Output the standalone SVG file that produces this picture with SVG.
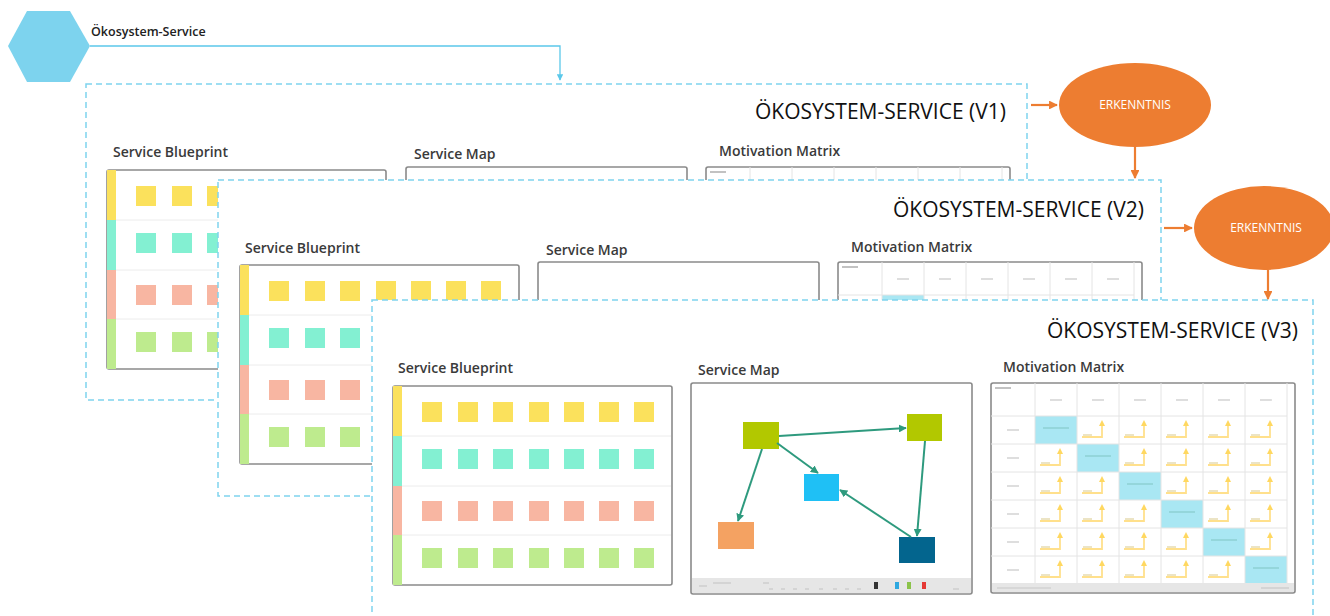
<svg xmlns="http://www.w3.org/2000/svg" xmlns:xlink="http://www.w3.org/1999/xlink" width="1330" height="616" viewBox="0 0 1330 616">
<style>
.box{fill:#fff;stroke:#7FD3EE;stroke-width:1.5;stroke-dasharray:6 4}
.title{font-family:"Open Sans","Liberation Sans",sans-serif;font-size:21px;fill:#111;text-anchor:end}
.lbl{font-family:"Open Sans","Liberation Sans",sans-serif;font-size:14px;font-weight:600;fill:#3a3a3a}
.panel{fill:#fff;stroke:#8a8a8a;stroke-width:1.6}
.sep{stroke:#ececec;stroke-width:1}
.y{fill:#FBE15C}.t{fill:#83F0D2}.s{fill:#F8B6A2}.g{fill:#BEEB8E}
.grid{stroke:#e4e4e4;stroke-width:1;fill:none}
.cy{fill:#A9E7F3}
.stk{fill:none;stroke:#FFE08C;stroke-width:1.8}
.tiny{stroke:#c8c8c8;stroke-width:1.2}
.map{stroke:#2E9A7E;stroke-width:2;fill:none;marker-end:url(#ta)}
.oa{stroke:#ED7D31;stroke-width:2.2;fill:none;marker-end:url(#oa)}
.ell{fill:#ED7D31}
.et{font-family:"Open Sans","Liberation Sans",sans-serif;font-size:12px;fill:#fff;text-anchor:middle}
</style>
<defs>
<marker id="ta" viewBox="0 0 10 10" refX="9" refY="5" markerWidth="4" markerHeight="4" orient="auto"><path d="M0,0L10,5L0,10z" fill="#2E9A7E"/></marker>
<marker id="oa" viewBox="0 0 10 10" refX="9" refY="5" markerWidth="4" markerHeight="4" orient="auto"><path d="M0,0L10,5L0,10z" fill="#ED7D31"/></marker>
<marker id="ba" viewBox="0 0 10 10" refX="9" refY="5" markerWidth="5" markerHeight="5" orient="auto"><path d="M0,0L10,5L0,10z" fill="#5BC8EA"/></marker>
<g id="bp">
<rect class="panel" x="0" y="0" width="279" height="199" rx="2"/>
<rect class="y" x="0" y="0" width="9" height="50"/>
<rect class="t" x="0" y="50" width="9" height="50"/>
<rect class="s" x="0" y="100" width="9" height="49"/>
<rect class="g" x="0" y="149" width="9" height="50"/>
<line class="sep" x1="9" y1="50" x2="278" y2="50"/>
<line class="sep" x1="9" y1="100" x2="278" y2="100"/>
<line class="sep" x1="9" y1="149" x2="278" y2="149"/>
<g class="y"><rect x="29" y="16" width="20" height="20"/><rect x="65" y="16" width="20" height="20"/><rect x="100" y="16" width="20" height="20"/><rect x="136" y="16" width="20" height="20"/><rect x="171" y="16" width="20" height="20"/><rect x="206" y="16" width="20" height="20"/><rect x="241" y="16" width="20" height="20"/></g>
<g class="t"><rect x="29" y="63" width="20" height="20"/><rect x="65" y="63" width="20" height="20"/><rect x="100" y="63" width="20" height="20"/><rect x="136" y="63" width="20" height="20"/><rect x="171" y="63" width="20" height="20"/><rect x="206" y="63" width="20" height="20"/><rect x="241" y="63" width="20" height="20"/></g>
<g class="s"><rect x="29" y="115" width="20" height="20"/><rect x="65" y="115" width="20" height="20"/><rect x="100" y="115" width="20" height="20"/><rect x="136" y="115" width="20" height="20"/><rect x="171" y="115" width="20" height="20"/><rect x="206" y="115" width="20" height="20"/><rect x="241" y="115" width="20" height="20"/></g>
<g class="g"><rect x="29" y="162" width="20" height="20"/><rect x="65" y="162" width="20" height="20"/><rect x="100" y="162" width="20" height="20"/><rect x="136" y="162" width="20" height="20"/><rect x="171" y="162" width="20" height="20"/><rect x="206" y="162" width="20" height="20"/><rect x="241" y="162" width="20" height="20"/></g>
</g>
<rect id="mapempty" class="panel" x="0" y="0" width="281" height="211" rx="2"/>
<g id="mapp">
<rect class="panel" x="0" y="0" width="281" height="211" rx="2"/>
<rect x="1" y="195" width="279" height="15" fill="#E6E6E6"/>
<g class="tiny"><line x1="8" y1="203" x2="16" y2="203"/><line x1="22" y1="200" x2="40" y2="200"/><line x1="72" y1="200" x2="78" y2="200"/><line x1="78" y1="206" x2="82" y2="206"/><line x1="90" y1="206" x2="94" y2="206"/><line x1="102" y1="206" x2="106" y2="206"/><line x1="114" y1="206" x2="118" y2="206"/><line x1="128" y1="206" x2="132" y2="206"/><line x1="142" y1="206" x2="146" y2="206"/><line x1="154" y1="206" x2="158" y2="206"/><line x1="166" y1="206" x2="170" y2="206"/><line x1="262" y1="206" x2="268" y2="206"/></g>
<rect x="183" y="199" width="4" height="7" fill="#333"/><rect x="204" y="199" width="4" height="7" fill="#2EA8E0"/><rect x="216" y="199" width="4" height="7" fill="#8BC34A"/><rect x="231" y="199" width="4" height="7" fill="#E53935"/>
<rect x="52" y="39" width="36" height="27" fill="#B2C800"/>
<rect x="216" y="31" width="35" height="27" fill="#B2C800"/>
<rect x="113" y="91" width="35" height="27" fill="#1FC0F5"/>
<rect x="27" y="139" width="36" height="27" fill="#F4A262"/>
<rect x="208" y="154" width="36" height="26" fill="#03658E"/>
<path class="map" d="M88,53L215,45"/>
<path class="map" d="M86,60L127,90"/>
<path class="map" d="M71,66L47,138"/>
<path class="map" d="M234,58L226,153"/>
<path class="map" d="M220,154L149,107"/>
</g>
<g id="cell"><path class="stk" d="M5,21H25V8"/><path d="M22,10L25,4L28,10z" fill="#FFD860"/><line x1="6" y1="19" x2="15" y2="19" stroke="#d9c98a" stroke-width="1"/></g>
<g id="mx">
<rect class="panel" x="0" y="0" width="304" height="210" rx="2"/>
<rect x="1" y="200" width="302" height="9" fill="#E6E6E6"/>
<rect class="cy" x="44" y="33" width="42" height="28"/>
<rect class="cy" x="86" y="61" width="42" height="28"/>
<rect class="cy" x="128" y="89" width="42" height="28"/>
<rect class="cy" x="170" y="117" width="42" height="28"/>
<rect class="cy" x="212" y="145" width="42" height="28"/>
<rect class="cy" x="254" y="173" width="42" height="27"/>
<g class="grid"><path d="M44,0V200M86,0V200M128,0V200M170,0V200M212,0V200M254,0V200M296,0V200"/><path d="M0,33H296M0,61H296M0,89H296M0,117H296M0,145H296M0,173H296"/></g>
<g class="tiny"><line x1="4" y1="5" x2="20" y2="5" stroke="#999"/>
<line x1="59" y1="17" x2="71" y2="17"/><line x1="101" y1="17" x2="113" y2="17"/><line x1="143" y1="17" x2="155" y2="17"/><line x1="185" y1="17" x2="197" y2="17"/><line x1="227" y1="17" x2="239" y2="17"/><line x1="269" y1="17" x2="281" y2="17"/>
<line x1="16" y1="47" x2="28" y2="47"/><line x1="16" y1="75" x2="28" y2="75"/><line x1="16" y1="103" x2="28" y2="103"/><line x1="16" y1="131" x2="28" y2="131"/><line x1="16" y1="159" x2="28" y2="159"/><line x1="16" y1="187" x2="28" y2="187"/>
<line x1="52" y1="45" x2="78" y2="45" stroke="#8cc"/><line x1="94" y1="73" x2="120" y2="73" stroke="#8cc"/><line x1="136" y1="101" x2="162" y2="101" stroke="#8cc"/><line x1="178" y1="129" x2="204" y2="129" stroke="#8cc"/><line x1="220" y1="157" x2="246" y2="157" stroke="#8cc"/><line x1="262" y1="185" x2="288" y2="185" stroke="#8cc"/>
<line x1="6" y1="205" x2="60" y2="205"/><line x1="270" y1="205" x2="298" y2="205"/></g>
<use xlink:href="#cell" x="86" y="33"/><use xlink:href="#cell" x="128" y="33"/><use xlink:href="#cell" x="170" y="33"/><use xlink:href="#cell" x="212" y="33"/><use xlink:href="#cell" x="254" y="33"/>
<use xlink:href="#cell" x="44" y="61"/><use xlink:href="#cell" x="128" y="61"/><use xlink:href="#cell" x="170" y="61"/><use xlink:href="#cell" x="212" y="61"/><use xlink:href="#cell" x="254" y="61"/>
<use xlink:href="#cell" x="44" y="89"/><use xlink:href="#cell" x="86" y="89"/><use xlink:href="#cell" x="170" y="89"/><use xlink:href="#cell" x="212" y="89"/><use xlink:href="#cell" x="254" y="89"/>
<use xlink:href="#cell" x="44" y="117"/><use xlink:href="#cell" x="86" y="117"/><use xlink:href="#cell" x="128" y="117"/><use xlink:href="#cell" x="212" y="117"/><use xlink:href="#cell" x="254" y="117"/>
<use xlink:href="#cell" x="44" y="145"/><use xlink:href="#cell" x="86" y="145"/><use xlink:href="#cell" x="128" y="145"/><use xlink:href="#cell" x="170" y="145"/><use xlink:href="#cell" x="254" y="145"/>
<use xlink:href="#cell" x="44" y="173"/><use xlink:href="#cell" x="86" y="173"/><use xlink:href="#cell" x="128" y="173"/><use xlink:href="#cell" x="170" y="173"/><use xlink:href="#cell" x="212" y="173"/>
</g>
</defs>
<rect width="1330" height="616" fill="#fff"/>

<g id="v1" transform="translate(86,84)">
<rect class="box" x="0" y="0" width="941" height="316"/>
<text class="title" x="920" y="35">ÖKOSYSTEM-SERVICE (V1)</text>
<text class="lbl" x="27" y="73">Service Blueprint</text>
<text class="lbl" x="328" y="75">Service Map</text>
<text class="lbl" x="633" y="72">Motivation Matrix</text>
<use xlink:href="#bp" x="21" y="86"/>
<use xlink:href="#mapempty" x="320" y="83"/>
<use xlink:href="#mx" x="620" y="83"/>
</g>

<g id="v2" transform="translate(218,180)">
<rect class="box" x="0" y="0" width="943" height="316"/>
<text class="title" x="926" y="37">ÖKOSYSTEM-SERVICE (V2)</text>
<text class="lbl" x="27" y="73">Service Blueprint</text>
<text class="lbl" x="328" y="75">Service Map</text>
<text class="lbl" x="633" y="72">Motivation Matrix</text>
<use xlink:href="#bp" x="22" y="85"/>
<use xlink:href="#mapempty" x="320" y="82"/>
<use xlink:href="#mx" x="620" y="82"/>
</g>

<g id="v3" transform="translate(372,300)">
<rect class="box" x="0" y="0" width="941" height="330"/>
<text class="title" x="926" y="38">ÖKOSYSTEM-SERVICE (V3)</text>
<text class="lbl" x="26" y="73">Service Blueprint</text>
<text class="lbl" x="326" y="75">Service Map</text>
<text class="lbl" x="631" y="72">Motivation Matrix</text>
<use xlink:href="#bp" x="21" y="86"/>
<use xlink:href="#mapp" x="319" y="83"/>
<use xlink:href="#mx" x="619" y="83"/>
</g>

<g id="hex">
<polygon points="8,46 27,11 70,11 90,46 70,82 27,82" fill="#7DD3EE"/>
<text x="91" y="36" font-family="Open Sans, Liberation Sans, sans-serif" font-size="12.5" font-weight="600" fill="#222">Ökosystem-Service</text>
</g>

<g id="erk1">
<ellipse class="ell" cx="1135" cy="105" rx="76" ry="42"/>
<text class="et" x="1135" y="109">ERKENNTNIS</text>
</g>
<g id="erk2">
<ellipse class="ell" cx="1264" cy="228" rx="70" ry="42"/>
<text class="et" x="1266" y="232">ERKENNTNIS</text>
</g>

<g id="connectors">
<path d="M90,46H560V80" fill="none" stroke="#5BC8EA" stroke-width="1.3" marker-end="url(#ba)"/>
<path class="oa" d="M1031,105H1057"/>
<path class="oa" d="M1135,147V178"/>
<path class="oa" d="M1164,228H1192"/>
<path class="oa" d="M1268,270V299"/>
</g>
</svg>
